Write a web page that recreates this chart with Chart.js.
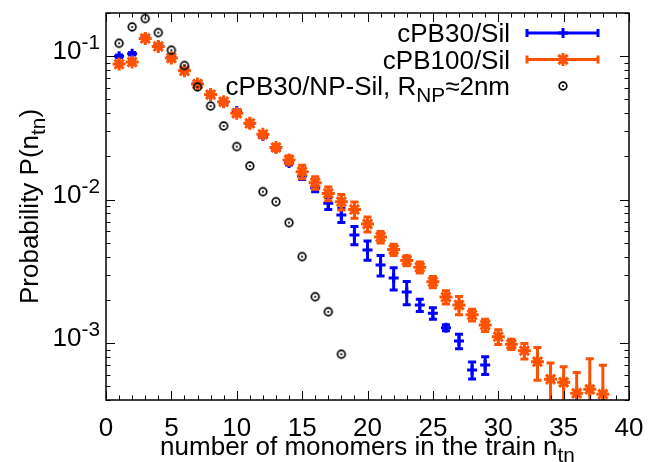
<!DOCTYPE html>
<html>
<head>
<meta charset="utf-8">
<script src="https://cdn.jsdelivr.net/npm/chart.js@4.4.1/dist/chart.umd.min.js"></script>
<style>
  html, body { margin: 0; padding: 0; background: #fff; }
  #wrap { width: 648px; height: 462px; }
</style>
</head>
<body>
<div id="wrap"><canvas id="trainChart" width="648" height="462"></canvas></div>
<script>
// train length n_tn for each series
const pb30Lengths = [1, 2, 3, 4, 5, 6, 7, 8, 9, 10, 11, 12, 13, 14, 15, 16, 17, 18, 19, 20,
    21, 22, 23, 24, 25, 26, 27, 28, 29];
const pb30Values = [0.100, 0.104, 0.134, 0.118, 0.098, 0.080, 0.065, 0.054, 0.0478, 0.0415,
    0.0338, 0.0277, 0.0228, 0.0180, 0.0146, 0.01204, 0.00942, 0.00781, 0.00566, 0.00445,
    0.0035, 0.00284, 0.002266, 0.00184, 0.00161, 0.001278, 0.001032, 0.000648, 0.000702];
const pb30Errors = [0.002, 0.002, 0.002, 0.002, 0.0015, 0.0012, 0.001, 0.0008, 0.0007, 0.0006,
    0.0005, 0.0005, 0.0005, 0.0006, 0.0008, 0.0007, 0.0009, 0.0009, 0.00082, 0.00068,
    0.00057, 0.0005, 0.00042, 0.00018, 0.00015, 0.00006, 0.00012, 0.000087, 0.0001];

const pb100Lengths = [1, 2, 3, 4, 5, 6, 7, 8, 9, 10, 11, 12, 13, 14, 15, 16, 17, 18, 19, 20,
    21, 22, 23, 24, 25, 26, 27, 28, 29, 30, 31, 32, 33, 34, 35, 36, 37, 38];
const pb100Values = [0.088, 0.091, 0.133, 0.117, 0.097, 0.079, 0.064, 0.054, 0.0481, 0.0400,
    0.0340, 0.0285, 0.0231, 0.0189, 0.01564, 0.01311, 0.01102, 0.00966, 0.00852, 0.00675,
    0.00548, 0.00448, 0.00376, 0.00337, 0.00267, 0.00209, 0.00184, 0.00157, 0.001334, 0.001106,
    0.000979, 0.000883, 0.00074, 0.000558, 0.000532, 0.000446, 0.000475, 0.000439];
const pb100Errors = [0.003, 0.003, 0.004, 0.003, 0.003, 0.0025, 0.002, 0.0018, 0.0016, 0.0014,
    0.0012, 0.001, 0.0009, 0.0012, 0.0017, 0.0013, 0.0012, 0.0012, 0.0011, 0.0008,
    0.0005, 0.0004, 0.0003, 0.0003, 0.00024, 0.00022, 0.00027, 0.00015, 0.00013, 0.00013,
    0.00008, 0.00011, 0.00019, 0.000167, 0.00015, 0.000175, 0.0003, 0.00026];

const npSilLengths = [1, 2, 3, 4, 5, 6, 7, 8, 9, 10, 11, 12, 13, 14, 15, 16, 17, 18];
const npSilValues = [0.123, 0.160, 0.183, 0.146, 0.110, 0.086, 0.061, 0.0449, 0.0326, 0.0234,
    0.01714, 0.01135, 0.00966, 0.0069, 0.0040, 0.0021, 0.00165, 0.000834];

const xTicks = [0, 5, 10, 15, 20, 25, 30, 35, 40];
const xTickLabels = ['0', '5', '10', '15', '20', '25', '30', '35', '40'];
const yTicks = [1e-1, 1e-2, 1e-3];
const yTickExponents = ['-1', '-2', '-3'];

const BLUE = '#0000ff';
const ORANGE = '#ff5200';
const FONT = "'Liberation Sans', Arial, Helvetica, sans-serif";
const FS = 26;

function toPoints(xs, ys) {
    return xs.map((x, i) => ({ x: x, y: ys[i] }));
}

// open circle with a dot, like gnuplot's point type
function circleDot() {
    const c = document.createElement('canvas');
    c.width = 12; c.height = 12;
    const g = c.getContext('2d');
    g.strokeStyle = '#000';
    g.lineWidth = 1.7;
    g.beginPath(); g.arc(6, 6, 3.8, 0, Math.PI * 2); g.stroke();
    g.fillStyle = '#000';
    g.beginPath(); g.arc(6, 6, 1.1, 0, Math.PI * 2); g.fill();
    return c;
}
const circleMark = circleDot();

// text with sub/superscripts: parts = [[text, 'sub'|'sup'|null], ...]
function richWidth(ctx, parts) {
    let w = 0;
    parts.forEach(p => {
        ctx.font = (p[1] ? FS * 0.8 : FS) + 'px ' + FONT;
        w += ctx.measureText(p[0]).width;
    });
    return w;
}
function drawRich(ctx, parts, x, y, align) {
    const w = richWidth(ctx, parts);
    let cx = align === 'right' ? x - w : align === 'center' ? x - w / 2 : x;
    ctx.textAlign = 'left';
    ctx.textBaseline = 'alphabetic';
    parts.forEach(p => {
        ctx.font = (p[1] ? FS * 0.8 : FS) + 'px ' + FONT;
        const dy = p[1] === 'sub' ? 7 : p[1] === 'sup' ? -10 : 0;
        ctx.fillText(p[0], cx, y + dy);
        cx += ctx.measureText(p[0]).width;
    });
}

const errorBarPlugin = {
    id: 'errorBars',
    beforeDatasetDraw(chart, args) {
        const ds = chart.data.datasets[args.index];
        if (!ds.errors) return;
        const ctx = chart.ctx;
        const area = chart.chartArea;
        const xs = chart.scales.x, ys = chart.scales.y;
        ctx.save();
        ctx.beginPath();
        ctx.rect(area.left, area.top, area.right - area.left, area.bottom - area.top);
        ctx.clip();
        ctx.strokeStyle = ds.borderColor;
        ctx.lineWidth = 3;
        ds.data.forEach((p, i) => {
            const e = ds.errors[i];
            const px = xs.getPixelForValue(p.x);
            const lo = p.y - e > 0 ? ys.getPixelForValue(p.y - e) : area.bottom + 20;
            const hi = ys.getPixelForValue(p.y + e);
            ctx.beginPath();
            ctx.moveTo(px, lo); ctx.lineTo(px, hi);
            ctx.moveTo(px - 4, lo); ctx.lineTo(px + 4, lo);
            ctx.moveTo(px - 4, hi); ctx.lineTo(px + 4, hi);
            ctx.stroke();
        });
        ctx.restore();
    }
};

const framePlugin = {
    id: 'frame',
    afterDraw(chart) {
        const ctx = chart.ctx;
        const a = chart.chartArea;
        const xs = chart.scales.x, ys = chart.scales.y;
        ctx.save();
        ctx.strokeStyle = '#000';
        ctx.lineWidth = 1.5;
        ctx.strokeRect(a.left, a.top, a.right - a.left, a.bottom - a.top);

        ctx.lineWidth = 1;
        ctx.beginPath();
        for (let i = 0; i <= 40; i++) {
            const px = Math.round(xs.getPixelForValue(i)) + 0.5;
            const len = i % 5 === 0 ? 9 : 4.5;
            ctx.moveTo(px, a.bottom); ctx.lineTo(px, a.bottom - len);
            ctx.moveTo(px, a.top); ctx.lineTo(px, a.top + len);
        }
        for (let d = -4; d <= 0; d++) {
            for (let m = 1; m <= 9; m++) {
                const v = m * Math.pow(10, d);
                if (v < ys.min || v > ys.max) continue;
                const py = Math.round(ys.getPixelForValue(v)) + 0.5;
                const len = m === 1 ? 9 : 4.5;
                ctx.moveTo(a.left, py); ctx.lineTo(a.left + len, py);
                ctx.moveTo(a.right, py); ctx.lineTo(a.right - len, py);
            }
        }
        ctx.stroke();

        ctx.fillStyle = '#000';
        ctx.font = FS + 'px ' + FONT;
        ctx.textAlign = 'center';
        ctx.textBaseline = 'alphabetic';
        xTicks.forEach((t, i) => {
            ctx.fillText(xTickLabels[i], xs.getPixelForValue(t), 436);
        });
        yTicks.forEach((t, i) => {
            drawRich(ctx, [['10', null], [yTickExponents[i], 'sup']], 100, ys.getPixelForValue(t) + 3, 'right');
        });

        // axis titles
        drawRich(ctx, [['number of monomers in the train n', null], ['tn', 'sub']],
            (a.left + a.right) / 2, 455, 'center');
        ctx.save();
        ctx.translate(38, (a.top + a.bottom) / 2);
        ctx.rotate(-Math.PI / 2);
        drawRich(ctx, [['Probability P(n', null], ['tn', 'sub'], [')', null]], 0, 0, 'center');
        ctx.restore();

        // legend, gnuplot style (text right, sample left)
        const textX = 510, x0 = 527, x1 = 598, xm = 563;
        const rows = [33, 59.5, 86];
        drawRich(ctx, [['cPB30/Sil', null]], textX, rows[0] + 9, 'right');
        drawRich(ctx, [['cPB100/Sil', null]], textX, rows[1] + 9, 'right');
        drawRich(ctx, [['cPB30/NP-Sil, R', null], ['NP', 'sub'], ['\u22482nm', null]], textX, rows[2] + 9, 'right');

        [[BLUE, 'cross', 5, rows[0]], [ORANGE, 'star', 6.5, rows[1]]].forEach(s => {
            ctx.strokeStyle = s[0];
            ctx.fillStyle = s[0];
            ctx.lineWidth = 3;
            ctx.beginPath();
            ctx.moveTo(x0, s[3]); ctx.lineTo(x1, s[3]);
            ctx.moveTo(x0, s[3] - 4); ctx.lineTo(x0, s[3] + 4);
            ctx.moveTo(x1, s[3] - 4); ctx.lineTo(x1, s[3] + 4);
            ctx.stroke();
            Chart.helpers.drawPoint(ctx, { pointStyle: s[1], radius: s[2], borderWidth: 3, rotation: 0 }, xm, s[3]);
        });
        ctx.drawImage(circleMark, xm - 6, rows[2] - 6);
        ctx.restore();
    }
};

document.addEventListener('DOMContentLoaded', function() {
    const ctx = document.getElementById('trainChart').getContext('2d');
    new Chart(ctx, {
        type: 'scatter',
        data: {
            datasets: [{
                label: 'cPB30/Sil',
                data: toPoints(pb30Lengths, pb30Values),
                errors: pb30Errors,
                borderColor: BLUE,
                backgroundColor: BLUE,
                pointStyle: 'cross',
                pointRadius: 5,
                pointBorderWidth: 3,
                order: 3
            }, {
                label: 'cPB100/Sil',
                data: toPoints(pb100Lengths, pb100Values),
                errors: pb100Errors,
                borderColor: ORANGE,
                backgroundColor: ORANGE,
                pointStyle: 'star',
                pointRadius: 6.5,
                pointBorderWidth: 3,
                order: 2
            }, {
                label: 'cPB30/NP-Sil, R_NP≈2nm',
                data: toPoints(npSilLengths, npSilValues),
                pointStyle: circleMark,
                pointRadius: 4,
                borderColor: '#000',
                order: 1
            }]
        },
        options: {
            responsive: false,
            animation: false,
            devicePixelRatio: 1,
            layout: { padding: { left: 106, right: 19, top: 13, bottom: 62 } },
            scales: {
                x: { type: 'linear', min: 0, max: 40, display: false },
                y: { type: 'logarithmic', min: 4e-4, max: 0.2, display: false }
            },
            plugins: {
                legend: { display: false },
                tooltip: { enabled: false }
            }
        },
        plugins: [errorBarPlugin, framePlugin]
    });
});
</script>
</body>
</html>
